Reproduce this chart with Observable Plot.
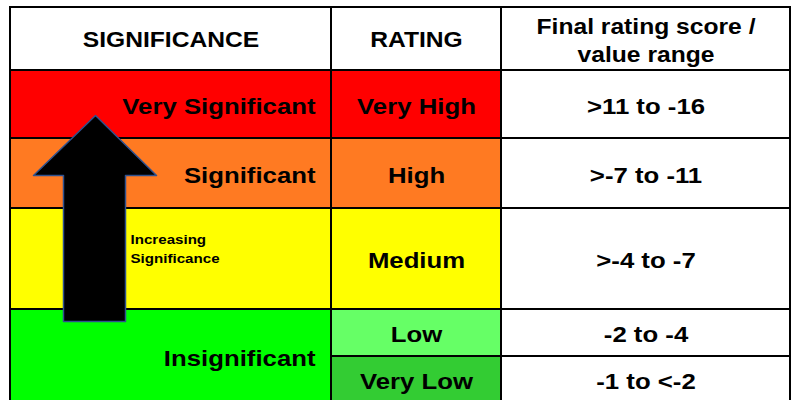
<!DOCTYPE html>
<html>
<head>
<meta charset="utf-8">
<script src="https://cdn.jsdelivr.net/npm/d3@7"></script>
<script src="https://cdn.jsdelivr.net/npm/@observablehq/plot@0.6"></script>
<style>
  html, body { margin: 0; padding: 0; background: #fff; }
  #chart svg { display: block; }
</style>
</head>
<body>
<div id="chart"></div>
<script>
// ---- data ----
const headers = ["SIGNIFICANCE", "RATING", "Final rating score /\nvalue range"];
const significance = ["Very Significant", "Significant", "", "Insignificant"];
const sigRowSpans = [[0, 0], [1, 1], [2, 2], [3, 4]];
const sigColors = ["#FF0000", "#FF7A22", "#FFFF00", "#00FF00"];
const ratings = ["Very High", "High", "Medium", "Low", "Very Low"];
const ratingColors = ["#FF0000", "#FF7A22", "#FFFF00", "#66FF66", "#33CC33"];
const ranges = [">11 to -16", ">-7 to -11", ">-4 to -7", "-2 to -4", "-1 to <-2"];
const arrowLabel = "Increasing\nSignificance";

// ---- layout (pixels) ----
const W = 793, H = 400;
const colEdges = [10, 331, 501, 790];
const rowEdges = [7, 70, 138, 208, 309, 356, 403]; // header + 5 rating rows
const arrowShape = [[95,115],[156,175],[125,175],[125,321],[63,321],[63,175],[33,175]];

// ---- build tables ----
const headerCells = headers.map((h, i) => ({
  label: h, x1: colEdges[i], x2: colEdges[i+1], y1: rowEdges[0], y2: rowEdges[1], fill: "#FFFFFF"
}));
const sigCells = significance.map((s, i) => ({
  label: s, x1: colEdges[0], x2: colEdges[1],
  y1: rowEdges[sigRowSpans[i][0] + 1], y2: rowEdges[sigRowSpans[i][1] + 2], fill: sigColors[i]
}));
const ratingCells = ratings.map((r, i) => ({
  label: r, x1: colEdges[1], x2: colEdges[2], y1: rowEdges[i+1], y2: rowEdges[i+2], fill: ratingColors[i]
}));
const rangeCells = ranges.map((r, i) => ({
  label: r, x1: colEdges[2], x2: colEdges[3], y1: rowEdges[i+1], y2: rowEdges[i+2], fill: "#FFFFFF"
}));
const allCells = [...headerCells, ...sigCells, ...ratingCells, ...rangeCells];
const arrowPts = arrowShape.map(([x, y]) => ({x, y}));

const font = "'Liberation Sans', Arial, sans-serif";
const cx = d => (d.x1 + d.x2) / 2;
const cy = d => (d.y1 + d.y2) / 2 + 2;

const plot = Plot.plot({
  width: W, height: H,
  margin: 0,
  x: {type: "linear", domain: [0, W], range: [0, W], axis: null},
  y: {type: "linear", domain: [0, H], range: [0, H], axis: null},
  style: {fontFamily: font, background: "#fff"},
  marks: [
    Plot.rect(allCells, {x1: "x1", x2: "x2", y1: "y1", y2: "y2", fill: d => d.fill, stroke: "#000", strokeWidth: 2}),
    Plot.line(arrowPts, {x: "x", y: "y", curve: "linear-closed", fill: "#000", stroke: "#2F528F", strokeWidth: 1.5}),
    // headers
    Plot.text(headerCells, {x: cx, y: d => d.label.includes("\n") ? 38.5 : 38, text: "label",
      fontSize: 22, fontWeight: "bold", fill: "#000", lineHeight: 1.25}),
    // significance labels
    Plot.text(sigCells.filter(d => d.label), {x: d => d.x2 - 16, y: cy, text: "label", textAnchor: "end",
      fontSize: 23, fontWeight: "bold", fill: "#000"}),
    // ratings
    Plot.text(ratingCells, {x: cx, y: cy, text: "label", fontSize: 23, fontWeight: "bold", fill: "#000"}),
    // ranges
    Plot.text(rangeCells, {x: cx, y: cy, text: "label", fontSize: 23, fontWeight: "bold", fill: "#000"}),
    // arrow label
    Plot.text([arrowLabel], {x: () => 130, y: () => 247, text: d => d, textAnchor: "start",
      fontSize: 13.5, fontWeight: "bold", fill: "#000", lineHeight: 1.38})
  ]
});

// widen glyphs horizontally to match reference proportions
plot.querySelectorAll("g[aria-label='text'] text").forEach(t => {
  const tr = t.getAttribute("transform") || "";
  t.setAttribute("transform", tr + " scale(1.12,1)");
});

document.getElementById("chart").appendChild(plot);
</script>
</body>
</html>
